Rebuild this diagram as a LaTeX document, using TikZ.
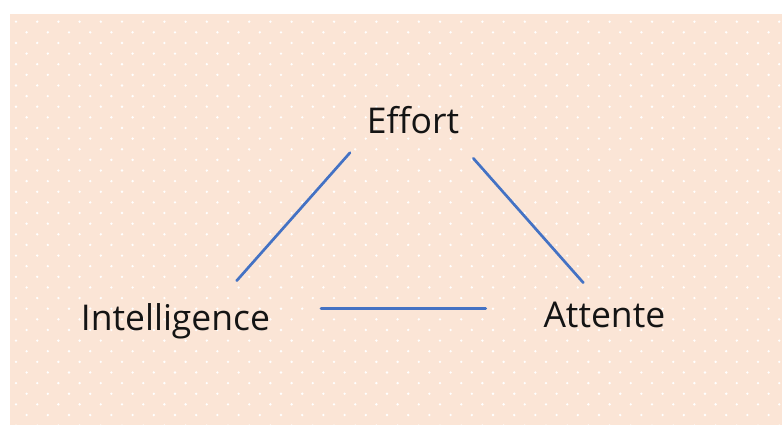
\documentclass[tikz,border=0pt]{standalone}
\usepackage{fontspec}
\setmainfont{Open Sans}
\definecolor{paper}{HTML}{FBE5D6}
\definecolor{edgeblue}{HTML}{4472C4}
\definecolor{ink}{HTML}{141414}
\tikzset{
  label/.style={inner sep=0pt, anchor=base west, text=ink,
    font=\fontsize{35.5}{40}\selectfont},
  link/.style={draw=edgeblue, line width=2.7pt, line cap=round},
}
\begin{document}
\begin{tikzpicture}[x=1pt,y=-1pt]
  % canvas and background card
  \useasboundingbox (0,0) rectangle (782,425);
  \fill[white] (0,0) rectangle (782,425);
  \fill[paper] (10,14) rectangle (782,425);
  % staggered dot texture
  \begin{scope}
    \clip (10,14) rectangle (782,425);
    \foreach \r in {0,...,38} {
      \pgfmathsetmacro{\yy}{21.7+10.63*\r}
      \pgfmathsetmacro{\xo}{mod(\r,2)==0 ? 16 : 26.6}
      \foreach \c in {0,...,36} {
        \fill[white] (\xo+21.2*\c,\yy) circle (1.3pt);
      }
    }
  \end{scope}
  % labels
  \node[label] (effort) at (366.7,134) {Effort};
  \node[label] (intel) at (80.7,330) {Intelligence};
  \node[label] (attente) at (543.3,327.7) {Attente};
  % connector ends
  \coordinate (eL) at (350,152.7);
  \coordinate (iT) at (236.7,280.7);
  \coordinate (iR) at (321,308.3);
  \coordinate (aL) at (485.7,308.3);
  \coordinate (eR) at (473.3,158.3);
  \coordinate (aT) at (583.3,282.7);
  % triangle of links
  \draw[link] (eL) -- (iT);
  \draw[link] (iR) -- (aL);
  \draw[link] (eR) -- (aT);
\end{tikzpicture}
\end{document}
